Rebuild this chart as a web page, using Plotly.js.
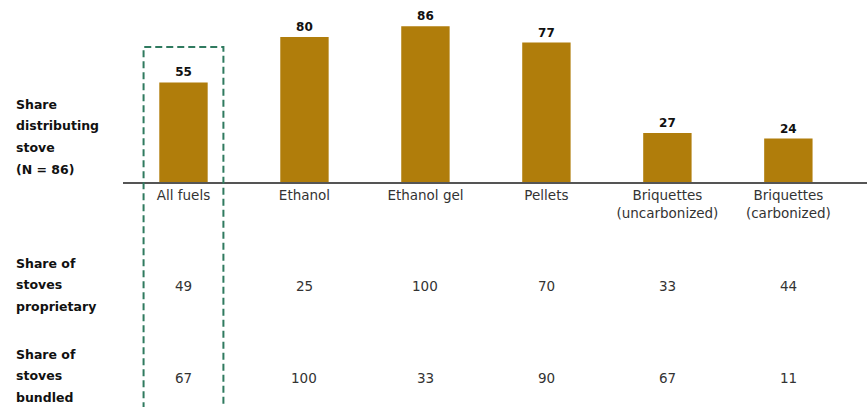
<!DOCTYPE html>
<html>
<head>
<meta charset="utf-8">
<script src="https://cdn.plot.ly/plotly-3.0.1.min.js"></script>
<style>html,body{margin:0;padding:0;background:#fff;}#chart{width:867px;height:407px;}</style>
</head>
<body>
<div id="chart"></div>
<script>
// ---- data ----
var categories = ["All fuels", "Ethanol", "Ethanol gel", "Pellets", "Briquettes<br>(uncarbonized)", "Briquettes<br>(carbonized)"];
var shareDistributing = [55, 80, 86, 77, 27, 24];
var shareProprietary = [49, 25, 100, 70, 33, 44];
var shareBundled = [67, 100, 33, 90, 67, 11];
var rowLabelDistributing = ["Share", "distributing", "stove", "(N = 86)"];
var rowLabelProprietary = ["Share of", "stoves", "proprietary"];
var rowLabelBundled = ["Share of", "stoves", "bundled"];

// ---- layout helpers ----
var FONT = "DejaVu Sans, sans-serif";
var W = 867, H = 407, ML = 123, MT = 0, MB = 225;
var plotH = H - MT - MB;           // 182
var plotW = W - ML;                // 744
function py(pixY) { return (H - MB - pixY) / plotH; }   // pixel y -> paper y
function px(pixX) { return (pixX - ML) / plotW; }       // pixel x -> paper x

var xIdx = categories.map(function (_, i) { return i; });

var annotations = [];
function addLabelBlock(lines, topY, step) {
  lines.forEach(function (t, i) {
    annotations.push({
      text: "<b>" + t + "</b>", xref: "paper", yref: "paper",
      x: px(14), y: py(topY + i * step), xanchor: "left", yanchor: "middle",
      showarrow: false, font: {family: FONT, size: 12.5, color: "#111"}
    });
  });
}
addLabelBlock(rowLabelDistributing, 104, 21.7);
addLabelBlock(rowLabelProprietary, 263, 21.5);
addLabelBlock(rowLabelBundled, 354, 21.5);

function addValueRow(vals, pixY) {
  vals.forEach(function (v, i) {
    annotations.push({
      text: String(v), xref: "x", yref: "paper", x: xIdx[i], y: py(pixY),
      xanchor: "center", yanchor: "middle", showarrow: false,
      font: {family: FONT, size: 13.5, color: "#333"}
    });
  });
}
addValueRow(shareProprietary, 286);
addValueRow(shareBundled, 378);

var trace = {
  type: "bar",
  x: xIdx,
  y: shareDistributing,
  marker: {color: "#B07D0B"},
  text: shareDistributing.map(String),
  textposition: "outside",
  cliponaxis: false,
  textfont: {family: FONT, size: 12, color: "#111", weight: "bold"},
  hoverinfo: "none"
};

var layout = {
  width: W, height: H,
  margin: {l: ML, r: 0, t: MT, b: MB, pad: 0},
  paper_bgcolor: "#fff", plot_bgcolor: "#fff",
  showlegend: false,
  bargap: 0.6,
  xaxis: {
    range: [-0.5, 5.65], tickvals: xIdx, ticktext: categories,
    showgrid: false, zeroline: false, showline: true, linecolor: "#555", linewidth: 2,
    ticks: "", tickfont: {family: FONT, size: 13.5, color: "#333"}, fixedrange: true
  },
  yaxis: {range: [0, 100.5], visible: false, fixedrange: true},
  shapes: [{
    type: "rect", xref: "x", yref: "paper",
    x0: -0.33, x1: 0.33, y0: py(412), y1: py(47),
    line: {color: "#2f7a5f", width: 2, dash: "7px,4px"}, fillcolor: "rgba(0,0,0,0)"
  }],
  annotations: annotations
};

Plotly.newPlot("chart", [trace], layout, {displayModeBar: false, staticPlot: true});
</script>
</body>
</html>
